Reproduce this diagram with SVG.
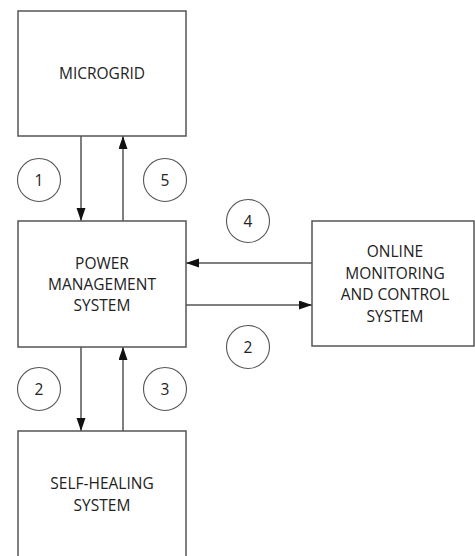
<svg xmlns="http://www.w3.org/2000/svg" width="475" height="556" viewBox="0 0 475 556">
  <defs>
    <marker id="arrowhead" markerUnits="userSpaceOnUse" markerWidth="13" markerHeight="10" refX="13" refY="4.5" orient="auto">
      <path d="M0,0 L13,4.5 L0,9 Z" fill="#111"/>
    </marker>
    <style>
      .box { fill: #fff; stroke: #555; stroke-width: 1.5; }
      .label { font-family: "Open Sans", "Liberation Sans", sans-serif; font-size: 15.5px; fill: #222; text-anchor: middle; }
      .edge { stroke: #555; stroke-width: 1.5; fill: none; marker-end: url(#arrowhead); }
      .badge { fill: #fff; stroke: #555; stroke-width: 1.1; }
    </style>
  </defs>
  <rect width="475" height="556" fill="#fff"/>

  <g id="connectors">
    <line class="edge" x1="81" y1="136" x2="81" y2="221"/>
    <line class="edge" x1="123" y1="221" x2="123" y2="136"/>
    <line class="edge" x1="81" y1="347" x2="81" y2="431"/>
    <line class="edge" x1="123" y1="431" x2="123" y2="347"/>
    <line class="edge" x1="312" y1="263" x2="186" y2="263"/>
    <line class="edge" x1="186" y1="305" x2="312" y2="305"/>
  </g>

  <g id="microgrid">
    <rect class="box" x="18" y="11" width="168" height="125"/>
    <text class="label" x="102" y="79">MICROGRID</text>
  </g>

  <g id="power-management-system">
    <rect class="box" x="18" y="221" width="168" height="126"/>
    <text class="label" x="102" y="268.5">POWER</text>
    <text class="label" x="102" y="289.5">MANAGEMENT</text>
    <text class="label" x="102" y="310.5">SYSTEM</text>
  </g>

  <g id="online-monitoring">
    <rect class="box" x="312" y="221" width="162" height="125"/>
    <text class="label" x="395" y="257">ONLINE</text>
    <text class="label" x="395" y="278.5">MONITORING</text>
    <text class="label" x="395" y="300">AND CONTROL</text>
    <text class="label" x="395" y="321.5">SYSTEM</text>
  </g>

  <g id="self-healing-system">
    <rect class="box" x="18" y="431" width="168" height="135"/>
    <text class="label" x="102" y="488.5">SELF-HEALING</text>
    <text class="label" x="102" y="510.5">SYSTEM</text>
  </g>

  <g id="step-1">
    <circle class="badge" cx="39" cy="180" r="21.5"/>
    <text class="label" x="39" y="185.5">1</text>
  </g>
  <g id="step-5">
    <circle class="badge" cx="165" cy="180" r="21.5"/>
    <text class="label" x="165" y="185.5">5</text>
  </g>
  <g id="step-4">
    <circle class="badge" cx="248" cy="221" r="21.5"/>
    <text class="label" x="248" y="226.5">4</text>
  </g>
  <g id="step-2-right">
    <circle class="badge" cx="248" cy="347" r="21.5"/>
    <text class="label" x="248" y="352.5">2</text>
  </g>
  <g id="step-2-down">
    <circle class="badge" cx="39" cy="389" r="21.5"/>
    <text class="label" x="39" y="394.5">2</text>
  </g>
  <g id="step-3">
    <circle class="badge" cx="165" cy="389" r="21.5"/>
    <text class="label" x="165" y="394.5">3</text>
  </g>
</svg>
